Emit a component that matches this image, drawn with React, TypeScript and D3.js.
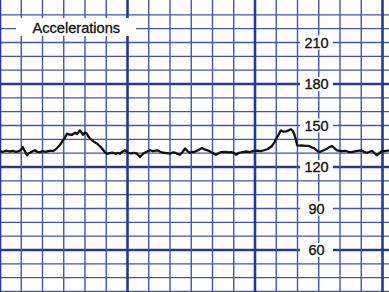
import React from "react";
import * as d3 from "d3";

const W = 389;
const H = 292;

// fetal heart rate trace: time (s) and bpm
const times = [0,1.5,3,4.5,6,7.5,9,10.2,10.7,11.5,12.7,13.5,14.1,15.5,16.5,17.5,18.8,20,21.5,23,24.9,26,27.3,28.5,29.6,30.5,31.5,32.5,33.9,35.3,36.2,37,37.6,38.3,39.1,40,40.9,41.6,42.4,44,45.6,47,48,49.2,50.4,51.5,53.2,54.5,55.5,56.5,57.5,58.8,60.2,61.5,63,64.5,65.9,67.3,69,70.6,72,73.9,75.5,76.7,78.5,80,81.2,82.4,83.5,84.7,86,87.1,88.2,89.4,90.5,91.3,93,95.1,96.5,98.4,100,101.6,103,104,106,107.5,108.7,110,111.1,112.5,114,116,117.5,119.5,121,122.5,124.2,126,128,129.2,130.4,131.3,132.2,133.4,134.6,135.8,136.9,137.8,138.4,139.2,139.8,141,142.1,143.7,145.4,146.6,147.8,149,150.1,151.5,153.4,155,156.2,157.5,158.6,160.5,162.8,164,165.6,167.5,169.9,171.3,172.7,174,175.1,176.2,177.4,178.6,179.8,181.5,183.1];
const bpm = [131.5,131,131.8,131.2,131.6,131,131.5,133,134.5,132,128.5,130,130.3,131.5,132.1,131,130.8,131.5,131,131.6,131.6,132.5,134.5,136.5,139.3,141,144.1,143.5,143.3,144.8,143.8,145.2,146.5,145,143.3,145,144.1,142,140.5,138.5,137,135,133.4,131,129.4,130,130.3,129.5,130.2,129.6,131,132.1,130.3,129.8,130.2,129.6,127.2,129.6,131,132.1,131.5,132.1,131,130.3,130,129.6,130.5,130.3,129.5,128.9,131,133.4,131.5,130.3,131,130.8,132,133.7,132.5,131.6,130.2,128.9,130,130.8,131,130.5,130.8,130.2,128.9,130.3,130.8,131.2,130.8,131.6,131.9,131.4,132.1,133,135.2,138,141.7,144,146.5,145.5,145.8,146.5,147.3,146,144.1,140,135.7,135.4,135.7,135.2,135.2,134.2,133.7,132,130.8,131.6,132.8,134.2,135.2,133.5,132.1,131.4,131.6,130.9,130.8,131.5,132.1,131,130.3,131,131.6,130,128.5,130,131.6,131.5,132.1];

const yLabels = [60, 90, 120, 150, 180, 210];
const title = "Accelerations";

export default function App() {
  const x = d3.scaleLinear().domain([0, W / 2.125]).range([0, W]);
  const y = d3.scaleLinear().domain([120, 180]).range([167, 84]);

  const vTicks = d3.range(0, 190, 10);
  const hTicks = d3.range(30, 240, 10);

  const line = d3
    .line<number>()
    .x((_, i) => x(times[i]))
    .y((d) => y(d))
    .curve(d3.curveLinear);

  const labelX = 316.5;

  return (
    <svg
      width={W}
      height={H}
      style={{ position: "fixed", left: 0, top: 0, background: "#fff" }}
      fontFamily="'Liberation Sans', Arial, sans-serif"
    >
      <rect width={W} height={H} fill="#fff" />
      {hTicks.map((v) => {
        const thick = v % 60 === 0;
        return (
          <line
            key={"h" + v}
            x1={0}
            x2={W}
            y1={y(v)}
            y2={y(v)}
            stroke={thick ? "#26379a" : "#4455ab"}
            strokeWidth={thick ? 2.6 : 1.3}
          />
        );
      })}
      {vTicks.map((t) => {
        const thick = t % 60 === 0;
        return (
          <line
            key={"v" + t}
            x1={x(t)}
            x2={x(t)}
            y1={0}
            y2={H}
            stroke={thick ? "#26379a" : "#4455ab"}
            strokeWidth={thick ? 2.6 : 1.4}
          />
        );
      })}
      <path d={line(bpm) || ""} fill="none" stroke="#111" strokeWidth={2.3} strokeLinejoin="round" />
      {yLabels.map((v) => (
        <g key={"l" + v}>
          <rect x={labelX - 16.5} y={y(v) - 7} width={33} height={14} fill="#fff" />
          <text
            x={labelX}
            y={y(v)}
            dy="0.36em"
            textAnchor="middle"
            fontSize={14.5}
            fill="#111"
            stroke="#111"
            strokeWidth={0.35}
          >
            {v}
          </text>
        </g>
      ))}
      <rect x={16} y={18} width={120} height={18} fill="#fff" />
      <text x={32.5} y={32.5} fontSize={14.6} fill="#111" stroke="#111" strokeWidth={0.3}>
        {title}
      </text>
    </svg>
  );
}
